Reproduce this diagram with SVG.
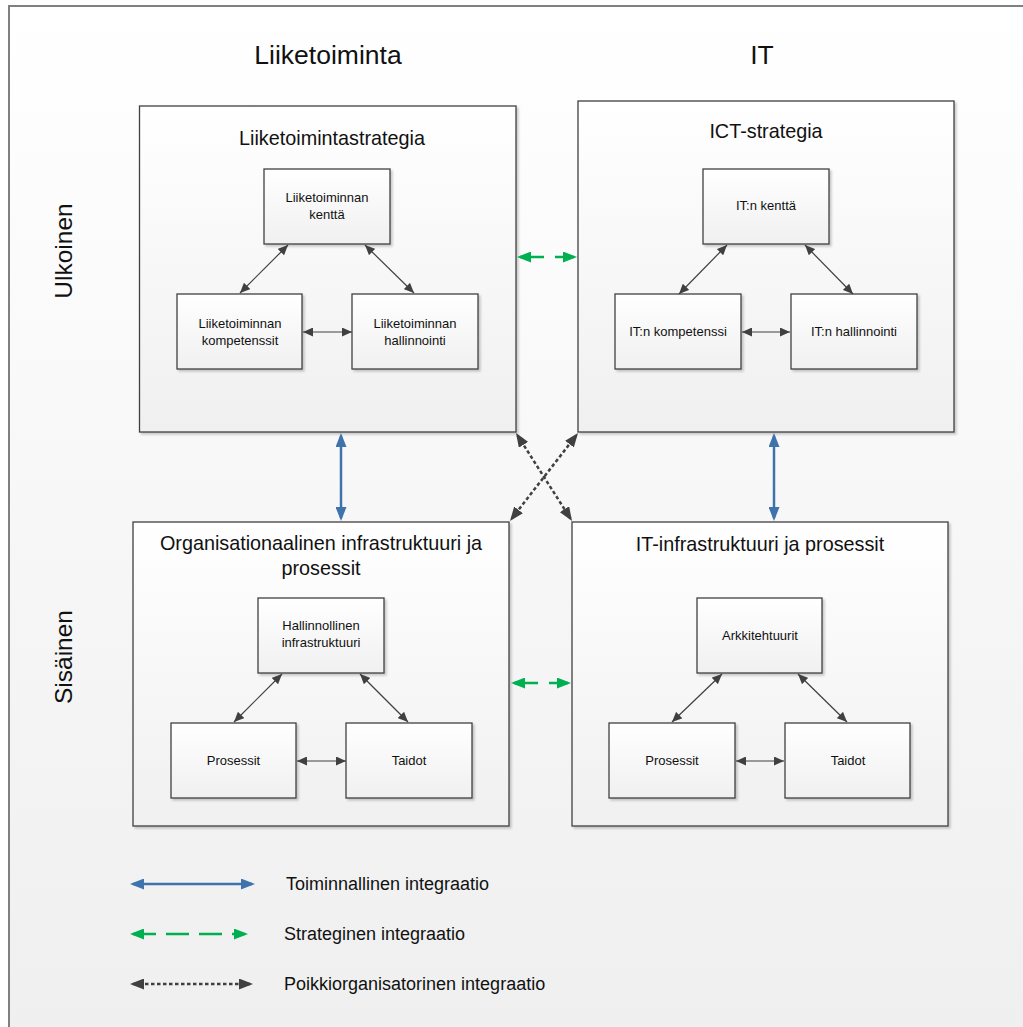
<svg xmlns="http://www.w3.org/2000/svg" width="1023" height="1027" viewBox="0 0 1023 1027">
  <defs>
    <linearGradient id="bg" x1="0" y1="0" x2="0" y2="1">
      <stop offset="0" stop-color="#ffffff"/>
      <stop offset="1" stop-color="#efefef"/>
    </linearGradient>
    <linearGradient id="boxFill" x1="0" y1="0" x2="0" y2="1">
      <stop offset="0" stop-color="#ffffff"/>
      <stop offset="1" stop-color="#f0f0f0"/>
    </linearGradient>
    <filter id="shadow" x="-5%" y="-5%" width="115%" height="115%">
      <feDropShadow dx="2" dy="2" stdDeviation="1" flood-color="#000000" flood-opacity="0.2"/>
    </filter>
    <marker id="headSmall" markerUnits="userSpaceOnUse" viewBox="0 0 10 9" markerWidth="10" markerHeight="9" refX="10" refY="4.5" orient="auto-start-reverse">
      <path d="M0,0 L10,4.5 L0,9 z" fill="#404040"/>
    </marker>
    <marker id="headBlue" markerUnits="userSpaceOnUse" viewBox="0 0 14 11" markerWidth="14" markerHeight="11" refX="11" refY="5.5" orient="auto-start-reverse">
      <path d="M0,0 L14,5.5 L0,11 z" fill="#3f73ab"/>
    </marker>
    <marker id="headGreen" markerUnits="userSpaceOnUse" viewBox="0 0 14 11" markerWidth="14" markerHeight="11" refX="11" refY="5.5" orient="auto-start-reverse">
      <path d="M0,0 L14,5.5 L0,11 z" fill="#00b050"/>
    </marker>
    <marker id="headDark" markerUnits="userSpaceOnUse" viewBox="0 0 14 11" markerWidth="14" markerHeight="11" refX="11" refY="5.5" orient="auto-start-reverse">
      <path d="M0,0 L14,5.5 L0,11 z" fill="#404040"/>
    </marker>
  </defs>
  <style>
    text { font-family: "Liberation Sans", Arial, sans-serif; fill: #111111; }
    .head { font-size: 26.5px; text-anchor: middle; }
    .side { font-size: 24.5px; text-anchor: middle; }
    .title { font-size: 19.8px; text-anchor: middle; }
    .inner { font-size: 13px; text-anchor: middle; }
    .legend { font-size: 18px; }
    .group { fill: url(#boxFill); stroke: #404040; stroke-width: 1.3; filter: url(#shadow); }
    .box { fill: url(#boxFill); stroke: #404040; stroke-width: 1.3; filter: url(#shadow); }
    .thin { stroke: #404040; stroke-width: 1.2; fill: none; marker-start: url(#headSmall); marker-end: url(#headSmall); }
    .blue { stroke: #3f73ab; stroke-width: 2.5; fill: none; marker-start: url(#headBlue); marker-end: url(#headBlue); }
    .green { stroke: #00b050; stroke-width: 2.5; fill: none; stroke-dasharray: 24 11; marker-start: url(#headGreen); marker-end: url(#headGreen); }
    .dotted { stroke: #404040; stroke-width: 2.5; fill: none; stroke-dasharray: 3.5 2.5; marker-start: url(#headDark); marker-end: url(#headDark); }
  </style>

  <!-- page frame -->
  <rect x="9" y="6" width="1030" height="1040" fill="url(#bg)" stroke="#808080" stroke-width="2"/>

  <!-- column and row headings -->
  <text class="head" x="328" y="64">Liiketoiminta</text>
  <text class="head" x="762" y="64">IT</text>
  <text class="side" transform="translate(72,251) rotate(-90)">Ulkoinen</text>
  <text class="side" transform="translate(72,657) rotate(-90)">Sisäinen</text>

  <!-- business strategy -->
  <g id="liiketoimintastrategia">
    <rect class="group" x="139.5" y="106" width="376.5" height="326"/>
    <text class="title" x="332" y="145">Liiketoimintastrategia</text>
  </g>
  <g id="liiketoiminnan-kentta">
    <rect class="box" x="264" y="169" width="126" height="75"/>
    <text class="inner" x="327" y="202">Liiketoiminnan</text>
    <text class="inner" x="327" y="219">kenttä</text>
  </g>
  <g id="liiketoiminnan-kompetenssit">
    <rect class="box" x="177" y="294" width="125" height="75"/>
    <text class="inner" x="240" y="328">Liiketoiminnan</text>
    <text class="inner" x="240" y="345">kompetenssit</text>
  </g>
  <g id="liiketoiminnan-hallinnointi">
    <rect class="box" x="352" y="294" width="126" height="75"/>
    <text class="inner" x="415" y="328">Liiketoiminnan</text>
    <text class="inner" x="415" y="345">hallinnointi</text>
  </g>

  <!-- ICT strategy -->
  <g id="ict-strategia">
    <rect class="group" x="578" y="101" width="376" height="331"/>
    <text class="title" x="766" y="138">ICT-strategia</text>
  </g>
  <g id="itn-kentta">
    <rect class="box" x="703" y="169" width="126" height="75"/>
    <text class="inner" x="766" y="210">IT:n kenttä</text>
  </g>
  <g id="itn-kompetenssi">
    <rect class="box" x="615" y="294" width="126" height="75"/>
    <text class="inner" x="678" y="336">IT:n kompetenssi</text>
  </g>
  <g id="itn-hallinnointi">
    <rect class="box" x="791" y="294" width="126" height="75"/>
    <text class="inner" x="854" y="336">IT:n hallinnointi</text>
  </g>

  <!-- organisational infrastructure -->
  <g id="organisationaalinen-infrastruktuuri">
    <rect class="group" x="133" y="522" width="376" height="304"/>
    <text class="title" x="321" y="550">Organisationaalinen infrastruktuuri ja</text>
    <text class="title" x="321" y="575">prosessit</text>
  </g>
  <g id="hallinnollinen-infrastruktuuri">
    <rect class="box" x="258" y="598" width="126" height="75"/>
    <text class="inner" x="321" y="630">Hallinnollinen</text>
    <text class="inner" x="321" y="647">infrastruktuuri</text>
  </g>
  <g id="org-prosessit">
    <rect class="box" x="171" y="723" width="125" height="75"/>
    <text class="inner" x="233.5" y="765">Prosessit</text>
  </g>
  <g id="org-taidot">
    <rect class="box" x="346" y="723" width="126" height="75"/>
    <text class="inner" x="409" y="765">Taidot</text>
  </g>

  <!-- IT infrastructure -->
  <g id="it-infrastruktuuri">
    <rect class="group" x="572" y="522" width="376" height="304"/>
    <text class="title" x="760" y="551">IT-infrastruktuuri ja prosessit</text>
  </g>
  <g id="arkkitehtuurit">
    <rect class="box" x="697" y="598" width="125" height="75"/>
    <text class="inner" x="760" y="640">Arkkitehtuurit</text>
  </g>
  <g id="it-prosessit">
    <rect class="box" x="609" y="723" width="126" height="75"/>
    <text class="inner" x="672" y="765">Prosessit</text>
  </g>
  <g id="it-taidot">
    <rect class="box" x="785" y="723" width="125" height="75"/>
    <text class="inner" x="848" y="765">Taidot</text>
  </g>

  <!-- connectors -->
  <g id="connectors">
    <line class="thin" x1="288" y1="245" x2="240" y2="293"/>
    <line class="thin" x1="365" y1="245" x2="414" y2="293"/>
    <line class="thin" x1="303" y1="332" x2="352" y2="332"/>

    <line class="thin" x1="727" y1="245" x2="679" y2="294"/>
    <line class="thin" x1="805" y1="245" x2="853" y2="294"/>
    <line class="thin" x1="742" y1="332" x2="790" y2="332"/>

    <line class="thin" x1="282" y1="674" x2="234" y2="722"/>
    <line class="thin" x1="360" y1="674" x2="408" y2="722"/>
    <line class="thin" x1="297" y1="761" x2="346" y2="761"/>

    <line class="thin" x1="722" y1="674" x2="672" y2="722"/>
    <line class="thin" x1="798" y1="674" x2="847" y2="722"/>
    <line class="thin" x1="736" y1="761" x2="784" y2="761"/>

    <line class="blue" x1="341" y1="436" x2="341" y2="518"/>
    <line class="blue" x1="774" y1="436" x2="774" y2="518"/>

    <line class="green" x1="520" y1="257" x2="574" y2="257"/>
    <line class="green" x1="514" y1="683" x2="568" y2="683"/>

    <line class="dotted" x1="517.6" y1="435.5" x2="570.4" y2="518.5"/>
    <line class="dotted" x1="576.2" y1="435.4" x2="511.8" y2="518.6"/>
  </g>

  <!-- legend -->
  <g id="legend">
    <line class="blue" x1="133" y1="884" x2="252" y2="884"/>
    <text class="legend" x="286" y="890">Toiminnallinen integraatio</text>
    <line class="green" x1="133" y1="934" x2="245" y2="934" style="stroke-dasharray:23 10"/>
    <text class="legend" x="284" y="940">Strateginen integraatio</text>
    <line class="dotted" x1="133" y1="984" x2="250" y2="984"/>
    <text class="legend" x="284" y="990">Poikkiorganisatorinen integraatio</text>
  </g>
</svg>
